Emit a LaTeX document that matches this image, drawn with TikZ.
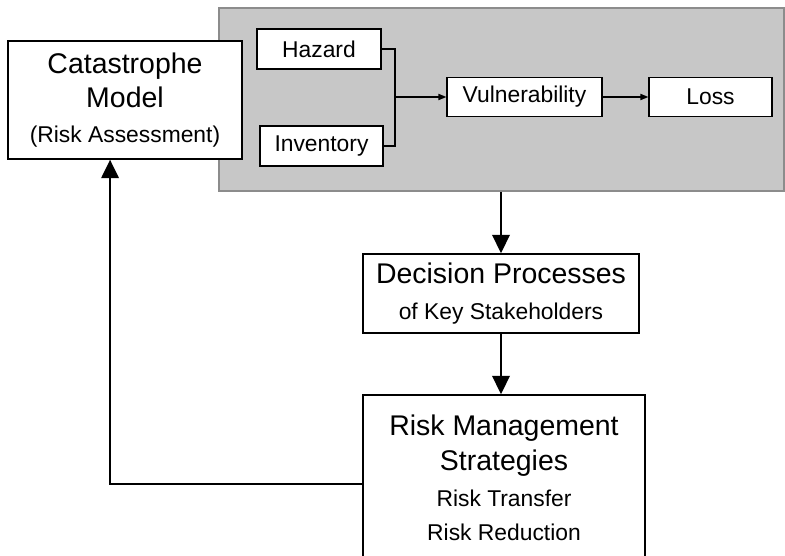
\documentclass[tikz,border=0pt]{standalone}
\usepackage{fontspec}
\setmainfont{Liberation Sans}
\usetikzlibrary{arrows.meta}
\newcommand{\bigtxt}{\fontsize{16.2pt}{19.5pt}\selectfont}
\newcommand{\smalltxt}{\fontsize{13pt}{19pt}\selectfont}

\begin{document}
\begin{tikzpicture}[x=0.02cm, y=-0.02cm,
		box/.style={draw, line width=0.9pt, fill=white, inner sep=0pt, align=center, font=\bigtxt},
		smallbox/.style={box, line width=0.75pt, font=\smalltxt},
		bigarrow/.style={-{Triangle[length=10.5pt, width=10pt]}, line width=1.1pt},
		smallarrow/.style={-{Triangle[length=4.5pt, width=3.5pt]}, line width=0.7pt}]
	\clip (0,0) rectangle (785,555);
	
	% --- 灰色区域: 模型内部 ---
	\node[draw=black!45, line width=1.1pt, fill=black!22, minimum width=11.3cm, minimum height=3.66cm] (panel) at (501.5,99.5) {};
	\node[box, minimum width=4.68cm, minimum height=2.36cm] (cat) at (125,100)
		{Catastrophe\\ Model\\ \smalltxt (Risk Assessment)};
	
	\node[smallbox, minimum width=2.48cm, minimum height=0.8cm] (haz) at (319,49) {Hazard};
	\node[smallbox, minimum width=2.46cm, minimum height=0.8cm] (inv) at (321.5,146) {Inventory};
	\node[smallbox, minimum width=3.1cm, minimum height=0.78cm] (vul) at (524.5,97) {Vulnerability};
	\node[smallbox, minimum width=2.46cm, minimum height=0.78cm] (loss) at (710.5,97) {Loss};
	
	% 合并 Hazard 与 Inventory
	\coordinate (join) at (395,97);
	\draw[line width=0.7pt] (haz.east) -| (join) |- (inv.east);
	\draw[smallarrow] (join) -- (vul.west);
	\draw[smallarrow] (vul) -- (loss);
	
	% --- 决策与策略 ---
	\node[box, minimum width=5.52cm, minimum height=1.58cm] (dec) at (501,293.5)
		{Decision Processes\\[1pt] \smalltxt of Key Stakeholders};
	\node[box, minimum width=5.64cm, minimum height=3.32cm] (rms) at (504,478)
		{Risk Management\\ Strategies\\[1pt] \smalltxt Risk Transfer\\ \smalltxt Risk Reduction};
	
	\draw[bigarrow] (dec.north |- panel.south) -- (dec.north);
	\draw[bigarrow] (dec.south) -- (dec.south |- rms.north);
	% 反馈回到模型
	\draw[bigarrow] ([yshift=-3.4pt]rms.west) -| ([xshift=-8.5pt]cat.south);
\end{tikzpicture}
\end{document}
